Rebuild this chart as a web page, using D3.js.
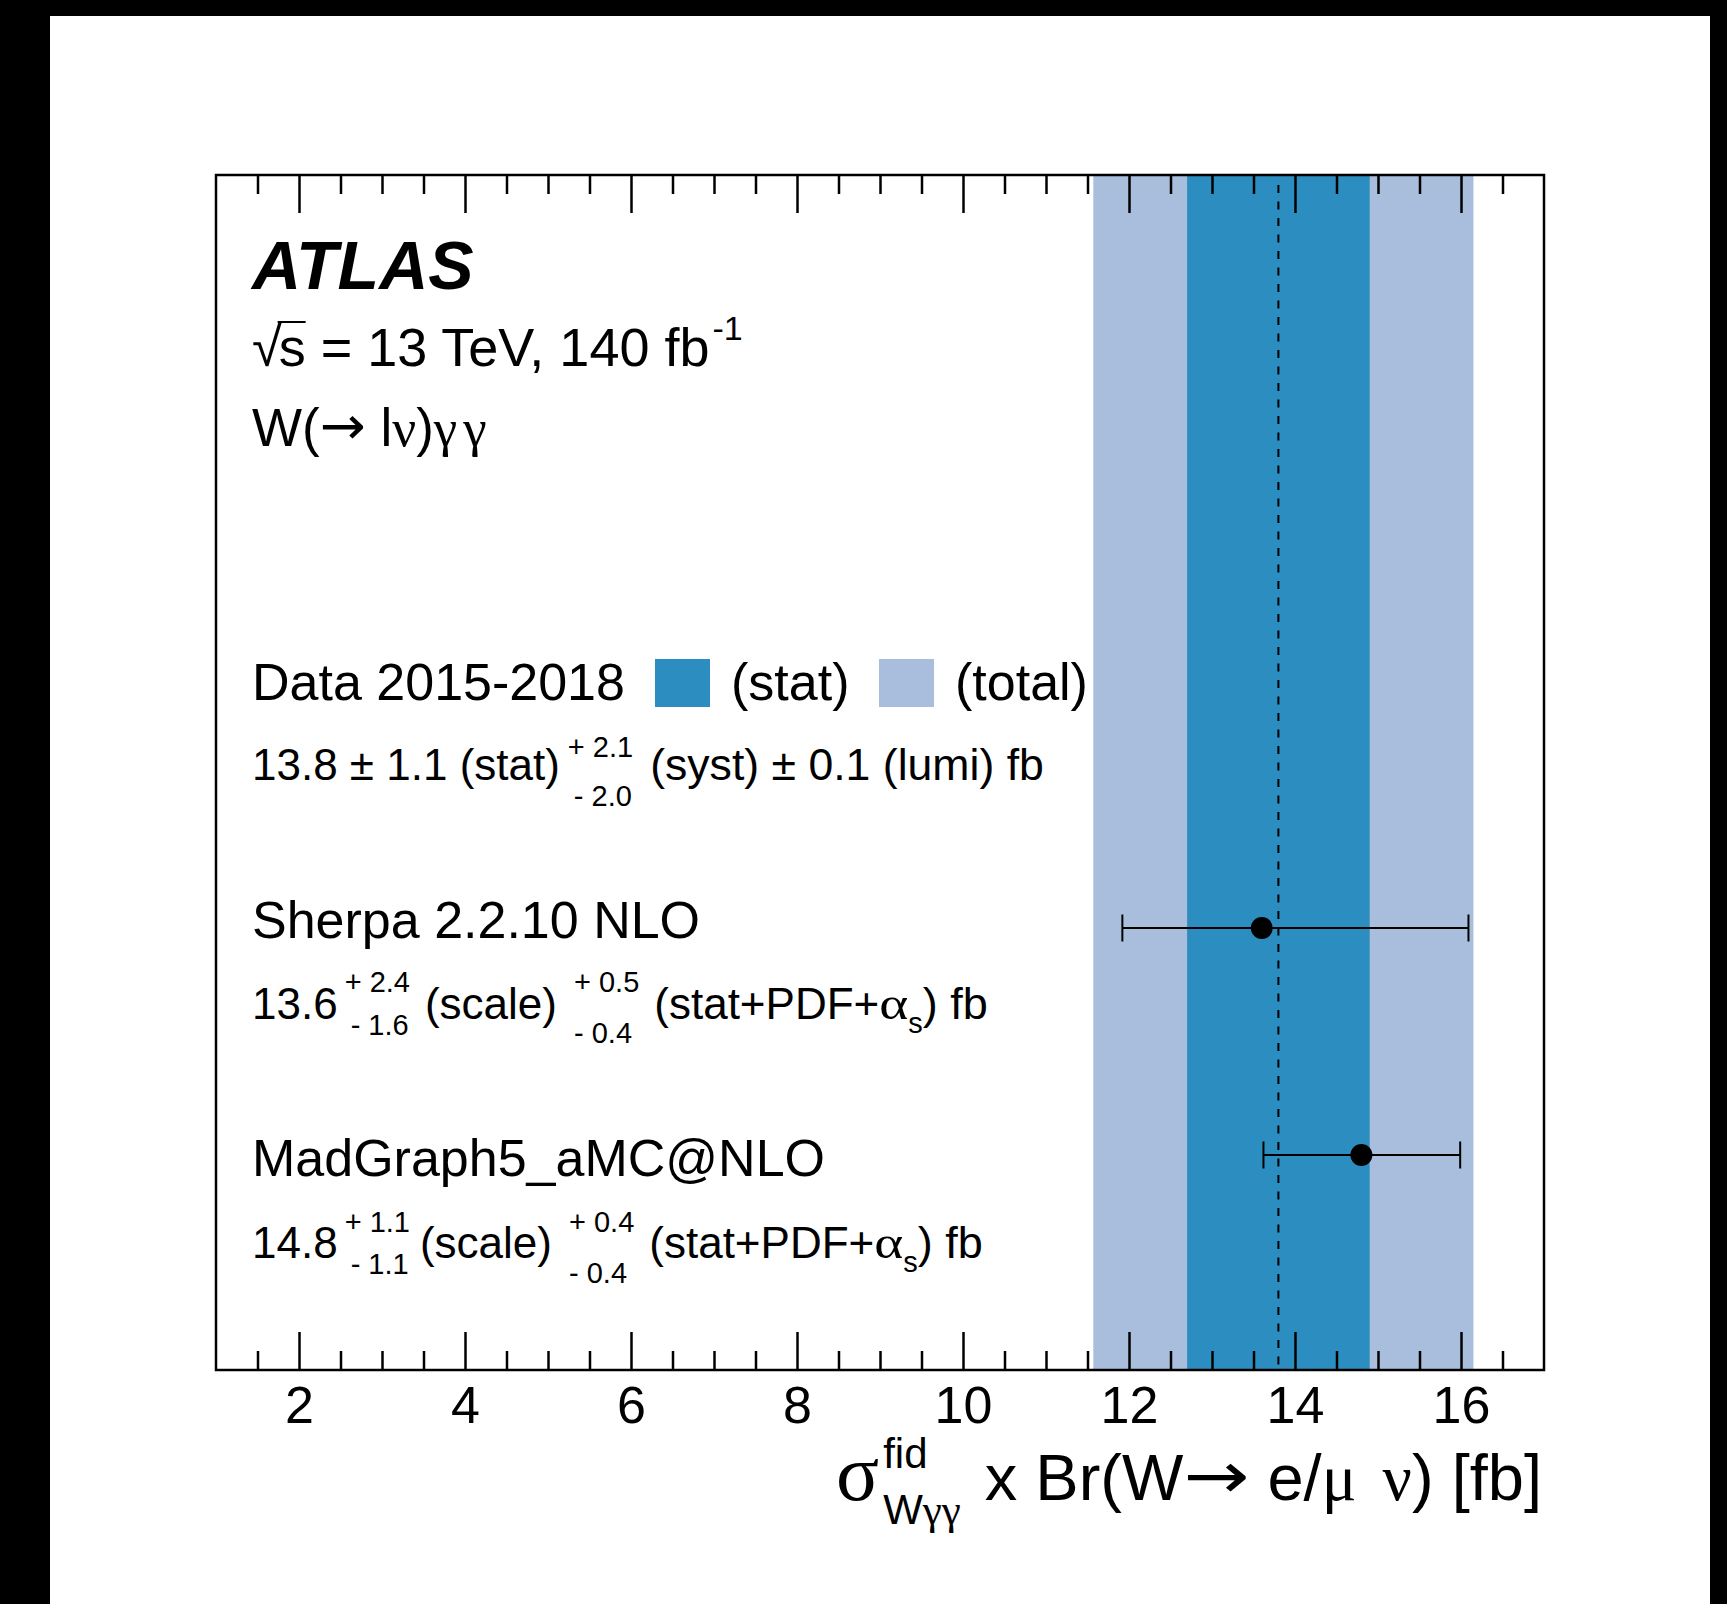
<!DOCTYPE html>
<html><head><meta charset="utf-8">
<script src="https://cdn.jsdelivr.net/npm/d3@7"></script>
<style>
html,body{margin:0;padding:0;background:#fff;}
svg{display:block;}
text{white-space:pre;}
</style></head><body>
<script>
// Measured fiducial cross section (fb) and its uncertainties
const dataLabel = "Data 2015-2018";
const dataValue = [13.8];
const dataStat = [1.1];
const dataSystUp = [2.1];
const dataSystDown = [2.0];
const dataLumi = [0.1];
// total uncertainty of the measurement (band edges)
const dataTotalUp = [2.35];
const dataTotalDown = [2.23];

// Theory predictions
const predNames = ["Sherpa 2.2.10 NLO", "MadGraph5_aMC@NLO"];
const predValues = [13.6, 14.8];
const predScaleUp = [2.4, 1.1];
const predScaleDown = [1.6, 1.1];
const predPdfUp = [0.5, 0.4];
const predPdfDown = [0.4, 0.4];
// total uncertainty of each prediction (error bar extent)
const predTotalUp = [2.49, 1.19];
const predTotalDown = [1.68, 1.18];

// Axis
const xDomain = [1, 17];
const majorTicks = [2, 4, 6, 8, 10, 12, 14, 16];
const tickLabels = ["2", "4", "6", "8", "10", "12", "14", "16"];
const minorStep = 0.5;

const W = 1727, H = 1604;
const frame = {left: 216, right: 1544, top: 175, bottom: 1370};
const SANS = "'Liberation Sans', Arial, Helvetica, sans-serif";
const SERIF = "'Liberation Serif', 'Times New Roman', serif";
const ARROW = "'DejaVu Sans', sans-serif";
const statColor = "#2c8ec0";
const totalColor = "#a9bedc";

const svg = d3.select("body").append("svg").attr("width", W).attr("height", H);
svg.append("rect").attr("width", W).attr("height", H).attr("fill", "#fff");

const x = d3.scaleLinear().domain(xDomain).range([frame.left, frame.right]);

// total and statistical bands of the measurement
const dv = dataValue[0];
const bands = [
  {lo: dv - dataTotalDown[0], hi: dv + dataTotalUp[0], color: totalColor},
  {lo: dv - dataStat[0], hi: dv + dataStat[0], color: statColor}
];
svg.selectAll("rect.band").data(bands).enter().append("rect")
  .attr("class", "band")
  .attr("x", d => x(d.lo)).attr("width", d => x(d.hi) - x(d.lo))
  .attr("y", frame.top).attr("height", frame.bottom - frame.top)
  .attr("fill", d => d.color);

// central value
svg.append("line")
  .attr("x1", x(dv)).attr("x2", x(dv))
  .attr("y1", frame.top + 10).attr("y2", frame.bottom)
  .attr("stroke", "#000").attr("stroke-width", 2)
  .attr("stroke-dasharray", "8,8.5");

// predictions with their total uncertainties
const yPred = d3.scalePoint().domain(predNames).range([928, 1155]);
const preds = predNames.map((n, i) => ({
  name: n, v: predValues[i], up: predTotalUp[i], dn: predTotalDown[i]
}));
const pg = svg.selectAll("g.pred").data(preds).enter().append("g").attr("class", "pred")
  .attr("transform", d => `translate(0,${yPred(d.name)})`);
pg.append("line").attr("x1", d => x(d.v - d.dn)).attr("x2", d => x(d.v + d.up))
  .attr("stroke", "#000").attr("stroke-width", 2);
pg.append("line").attr("x1", d => x(d.v - d.dn)).attr("x2", d => x(d.v - d.dn))
  .attr("y1", -13.5).attr("y2", 13.5).attr("stroke", "#000").attr("stroke-width", 2);
pg.append("line").attr("x1", d => x(d.v + d.up)).attr("x2", d => x(d.v + d.up))
  .attr("y1", -13.5).attr("y2", 13.5).attr("stroke", "#000").attr("stroke-width", 2);
pg.append("circle").attr("cx", d => x(d.v)).attr("r", 11).attr("fill", "#000");

// axes: major and minor ticks on top and bottom, pointing inward
const minorTicks = d3.range(xDomain[0] + minorStep, xDomain[1], minorStep)
  .filter(v => !majorTicks.includes(v));
function tickAxis(axisFn, y, values, size, labels) {
  const a = axisFn(x).tickValues(values).tickSizeInner(-size).tickSizeOuter(0)
    .tickPadding(16)
    .tickFormat(labels ? (d, i) => labels[i] : () => "");
  const g = svg.append("g").attr("transform", `translate(0,${y})`).call(a);
  g.select(".domain").remove();
  g.selectAll(".tick line").attr("stroke", "#000").attr("stroke-width", 2.5);
  g.selectAll(".tick text").attr("fill", "#000").style("font-family", SANS).style("font-size", "52px");
  return g;
}
tickAxis(d3.axisBottom, frame.bottom, majorTicks, 38, tickLabels);
tickAxis(d3.axisBottom, frame.bottom, minorTicks, 19, null);
tickAxis(d3.axisTop, frame.top, majorTicks, 38, null);
tickAxis(d3.axisTop, frame.top, minorTicks, 19, null);

// frame
svg.append("rect").attr("x", frame.left).attr("y", frame.top)
  .attr("width", frame.right - frame.left).attr("height", frame.bottom - frame.top)
  .attr("fill", "none").attr("stroke", "#000").attr("stroke-width", 2.5);

// rich text: sequence of runs, with stacked super/subscripts
function run(g, xx, y, s) {
  const t = g.append("text").attr("x", xx).attr("y", y)
    .style("font-family", s.font || (s.serif ? SERIF : SANS))
    .style("font-size", (s.size || 52) + "px")
    .style("font-weight", s.bold ? "bold" : "normal")
    .style("font-style", s.italic ? "italic" : "normal")
    .attr("fill", "#000").text(s.t);
  if (s.len) {
    t.attr("textLength", s.len).attr("lengthAdjust", "spacingAndGlyphs");
    return s.len;
  }
  return t.node().getComputedTextLength();
}
function richText(parent, x0, y0, segs) {
  const g = parent.append("g");
  let xx = x0;
  segs.forEach(s => {
    xx += (s.gap || 0);
    if (s.stack) {
      let w = 0;
      s.stack.forEach(p => {
        let xs = xx + (p.dx || 0);
        p.parts.forEach(q => { xs += run(g, xs, y0 + p.dy + (q.dy || 0), q); });
        w = Math.max(w, xs - xx);
      });
      xx += w;
    } else {
      xx += run(g, xx, y0 + (s.dy || 0), s);
    }
  });
  return {g: g, width: xx - x0};
}

const textX = 252;
// experiment label
richText(svg, textX, 289, [{t: "ATLAS", size: 68, bold: true, italic: true}]);

// sqrt(s) line: radical and "s" as one text, with a bar over the "s"
{
  const t = svg.append("text").attr("x", textX).attr("y", 366)
    .style("font-family", SANS).style("font-size", "54px")
    .style("letter-spacing", "-3px")
    .attr("fill", "#000").text("\u221As");
  const node = t.node();
  const sStart = node.getStartPositionOfChar(1).x;
  const sEnd = node.getEndPositionOfChar(1).x;
  svg.append("line").attr("x1", sStart - 1).attr("x2", sEnd + 3)
    .attr("y1", 322).attr("y2", 322).attr("stroke", "#000").attr("stroke-width", 2);
  richText(svg, sEnd + 3, 366, [
    {t: " = 13 TeV, 140 fb", size: 54},
    {t: "-1", size: 34, dy: -26, gap: 3}
  ]);
}
richText(svg, textX, 446, [
  {t: "W(", size: 53},
  {t: "\u2192", size: 53, font: ARROW, len: 46, dy: -2},
  {t: " l", size: 53},
  {t: "\u03BD", size: 53, serif: true},
  {t: ")", size: 53},
  {t: "\u03B3", size: 53, serif: true},
  {t: "\u03B3", size: 53, serif: true, gap: 6}
]);

// legend
richText(svg, textX, 700, [{t: dataLabel, size: 52}]);
svg.append("rect").attr("x", 655).attr("y", 659).attr("width", 55).attr("height", 48).attr("fill", statColor);
richText(svg, 731, 700, [{t: "(stat)", size: 52}]);
svg.append("rect").attr("x", 879).attr("y", 659).attr("width", 55).attr("height", 48).attr("fill", totalColor);
richText(svg, 955, 700, [{t: "(total)", size: 52}]);

const fmt = d3.format(".1f");
richText(svg, textX, 780, [
  {t: `${fmt(dataValue[0])} \u00B1 ${fmt(dataStat[0])} (stat)`, size: 44},
  {gap: 8, stack: [
    {dy: -23, parts: [{t: `+ ${fmt(dataSystUp[0])}`, size: 29}]},
    {dy: 26, dx: 6, parts: [{t: `- ${fmt(dataSystDown[0])}`, size: 29}]}
  ]},
  {gap: 17, t: `(syst) \u00B1 ${fmt(dataLumi[0])} (lumi) fb`, size: 44.6}
]);

// prediction labels
const predRows = [
  {title: 938, num: 1019, s1: [-27, 16], s2: [-27, 24], g1: 15, g2: 17, g3: 15},
  {title: 1176, num: 1258, s1: [-26, 16], s2: [-26, 25], g1: 10, g2: 17, g3: 15}
];
preds.forEach((p, i) => {
  const r = predRows[i];
  richText(svg, textX, r.title, [{t: p.name, size: 52}]);
  richText(svg, textX, r.num, [
    {t: fmt(predValues[i]), size: 44},
    {gap: 7, stack: [
      {dy: r.s1[0], parts: [{t: `+ ${fmt(predScaleUp[i])}`, size: 29}]},
      {dy: r.s1[1], dx: 6, parts: [{t: `- ${fmt(predScaleDown[i])}`, size: 29}]}
    ]},
    {gap: r.g1, t: "(scale)", size: 44},
    {gap: r.g2, stack: [
      {dy: r.s2[0], parts: [{t: `+ ${fmt(predPdfUp[i])}`, size: 29}]},
      {dy: r.s2[1], parts: [{t: `- ${fmt(predPdfDown[i])}`, size: 29}]}
    ]},
    {gap: r.g3, t: "(stat+PDF+", size: 44},
    {t: "\u03B1", size: 46, serif: true, len: 29},
    {t: "s", size: 29, dy: 14},
    {t: ") fb", size: 45}
  ]);
});

// x-axis title, right-aligned to the frame
{
  const segs = [
    {t: "\u03C3", size: 80, serif: true},
    {gap: 4, stack: [
      {dy: -32, parts: [{t: "fid", size: 42}]},
      {dy: 24, parts: [{t: "W", size: 42}, {t: "\u03B3\u03B3", size: 43, serif: true}]}
    ]},
    {gap: 24, t: "x Br(W", size: 65},
    {t: "\u2192", size: 65, font: ARROW, len: 66, dy: -2},
    {t: " e/", size: 65},
    {t: "\u03BC", size: 65, serif: true},
    {t: " ", size: 65},
    {t: "\u03BD", size: 65, serif: true, gap: 8},
    {t: ") [fb]", size: 65}
  ];
  const tmp = richText(svg, 0, 1500, segs);
  const w = tmp.width;
  tmp.g.remove();
  richText(svg, frame.right - 2 - w, 1500, segs);
}

// page border
svg.append("rect").attr("x", 0).attr("y", 0).attr("width", 50).attr("height", H).attr("fill", "#000");
svg.append("rect").attr("x", 0).attr("y", 0).attr("width", W).attr("height", 16).attr("fill", "#000");
svg.append("rect").attr("x", 1710).attr("y", 0).attr("width", W - 1710).attr("height", H).attr("fill", "#000");
</script>
</body></html>
